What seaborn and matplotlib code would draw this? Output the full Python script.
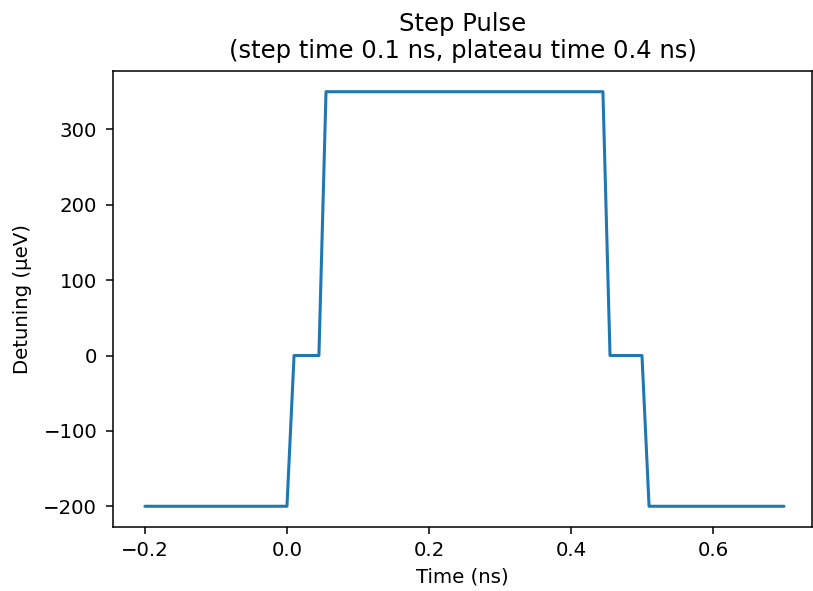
import pandas as pd
import numpy as np
import seaborn as sns
import matplotlib
matplotlib.use('Agg')
import matplotlib.pyplot as plt

# pulse corners
time_ns = [-0.2, 0.0, 0.01, 0.045, 0.055, 0.445, 0.455, 0.5, 0.51, 0.7]
detuning = [-200, -200, 0, 0, 350, 350, 0, 0, -200, -200]

df = pd.DataFrame({'Time (ns)': time_ns, 'Detuning (μeV)': detuning})

sns.set_style('ticks')
plt.rcParams['font.family'] = ['DejaVu Sans']
plt.rcParams['text.color'] = 'black'
plt.rcParams['axes.labelcolor'] = 'black'
plt.rcParams['xtick.color'] = 'black'
plt.rcParams['ytick.color'] = 'black'
plt.rcParams['axes.edgecolor'] = 'black'

fig, ax = plt.subplots(figsize=(8.13, 5.91), dpi=100)
fig.subplots_adjust(left=0.139, right=0.9988, bottom=0.1083, top=0.8799)

sns.lineplot(data=df, x='Time (ns)', y='Detuning (μeV)', sort=False,
             estimator=None, color='#1f77b4', linewidth=2.2, ax=ax)

ax.set_title('Step Pulse\n(step time 0.1 ns, plateau time 0.4 ns)',
             fontsize=17.5, pad=9)
ax.set_xlabel('Time (ns)', fontsize=14.2, labelpad=5.6)
ax.set_ylabel('Detuning (μeV)', fontsize=14.2, labelpad=8)
ax.tick_params(labelsize=14.2, length=4.9, width=1.1, pad=4.9)
ax.tick_params(axis='y', pad=6.5)
for s in ax.spines.values():
    s.set_linewidth(1.1)
ax.set_xlim(-0.245, 0.7395)
ax.set_ylim(-227.5, 377.5)

plt.savefig('out.png', dpi=100)
